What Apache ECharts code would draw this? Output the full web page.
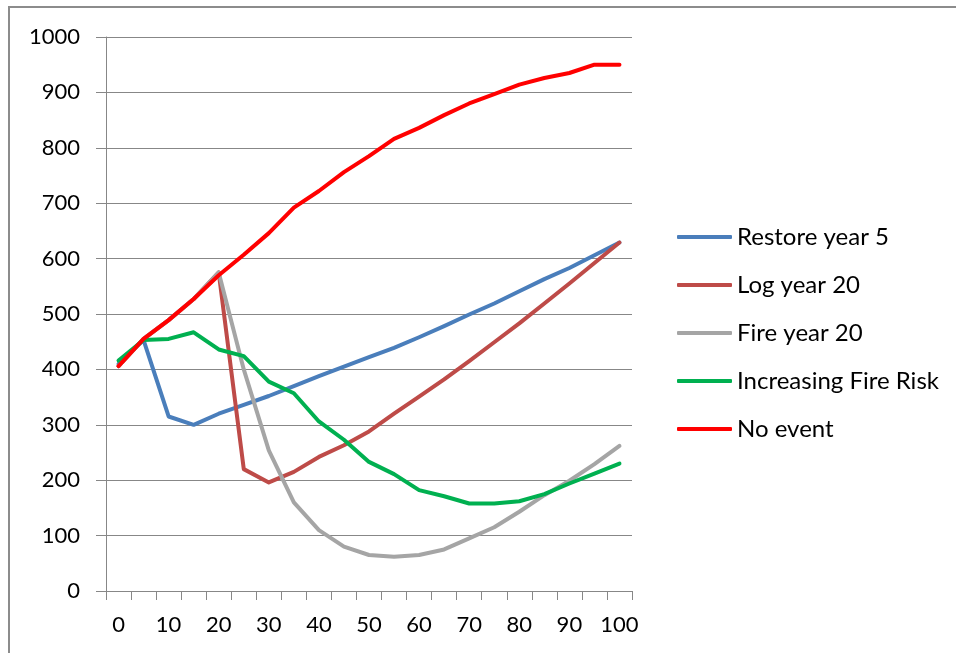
<!DOCTYPE html>
<html>
<head>
<meta charset="utf-8">
<script src="https://cdn.jsdelivr.net/npm/echarts@6/dist/echarts.min.js"></script>
<style>
  html, body { margin: 0; padding: 0; background: #ffffff; }
  #chart { width: 956px; height: 653px; }
</style>
</head>
<body>
<div id="chart"></div>
<script>
// Years since start (every 5 years)
const years = ['0','5','10','15','20','25','30','35','40','45','50','55','60','65','70','75','80','85','90','95','100'];

const restoreYear5 = [410, 453, 315, 300, 320, 336, 352, 370, 388, 405, 422, 439, 458, 478, 499, 519, 541, 563, 583, 606, 629];
const logYear20 = [406, 455, 489, 527, 575, 220, 196, 215, 242, 263, 288, 320, 351, 382, 415, 449, 483, 519, 555, 592, 629];
const fireYear20 = [406, 455, 489, 527, 575, 400, 254, 160, 110, 80, 65, 62, 65, 75, 95, 115, 143, 173, 199, 229, 262];
const increasingFireRisk = [416, 453, 455, 467, 436, 424, 378, 357, 306, 273, 233, 211, 182, 171, 158, 158, 162, 175, 194, 212, 230];
const noEvent = [406, 455, 489, 527, 570, 607, 646, 692, 722, 756, 785, 816, 836, 859, 880, 897, 914, 926, 935, 950, 950];

const seriesNames = ['Restore year 5', 'Log year 20', 'Fire year 20', 'Increasing Fire Risk', 'No event'];
const seriesColors = ['#4a7ebb', '#be4b48', '#a5a5a5', '#00b050', '#ff0000'];
const seriesData = [restoreYear5, logYear20, fireYear20, increasingFireRisk, noEvent];

const FONT = 'Lato, "Open Sans", sans-serif';
const GRID_COLOR = '#878787';

const chart = echarts.init(document.getElementById('chart'), null, { renderer: 'canvas' });

chart.setOption({
  backgroundColor: '#ffffff',
  animation: false,
  textStyle: { fontFamily: FONT, color: '#000' },
  graphic: [{
    type: 'rect',
    shape: { x: 9, y: 7, width: 960, height: 660 },
    style: { fill: 'none', stroke: '#8c8c8c', lineWidth: 2 },
    silent: true
  }],
  grid: { left: 106, top: 37, right: 324, bottom: 62, containLabel: false },
  legend: {
    orient: 'vertical',
    left: 677,
    top: 223,
    padding: 0,
    icon: 'roundRect',
    itemWidth: 55,
    itemHeight: 4,
    itemGap: 20,
    data: seriesNames,
    textStyle: { fontFamily: FONT, fontSize: 24, color: '#000', lineHeight: 28 }
  },
  xAxis: {
    type: 'category',
    data: years,
    boundaryGap: true,
    axisLine: { lineStyle: { color: GRID_COLOR, width: 1 } },
    axisTick: { show: true, interval: 0, length: 9, lineStyle: { color: GRID_COLOR } },
    axisLabel: { interval: 1, margin: 23, fontFamily: FONT, fontSize: 22, color: '#000' },
    splitLine: { show: false }
  },
  yAxis: {
    type: 'value',
    min: 0,
    max: 1000,
    interval: 100,
    axisLine: { show: true, lineStyle: { color: GRID_COLOR, width: 1 } },
    axisTick: { show: true, length: 10, lineStyle: { color: GRID_COLOR } },
    axisLabel: { margin: 26, fontFamily: FONT, fontSize: 22, color: '#000', formatter: v => String(v) },
    splitLine: { show: true, lineStyle: { color: GRID_COLOR, width: 1 } }
  },
  series: seriesNames.map((name, i) => ({
    name: name,
    type: 'line',
    data: seriesData[i],
    symbol: 'none',
    smooth: false,
    color: seriesColors[i],
    lineStyle: { width: 4, color: seriesColors[i], join: 'round', cap: 'round' }
  }))
});
</script>
</body>
</html>
